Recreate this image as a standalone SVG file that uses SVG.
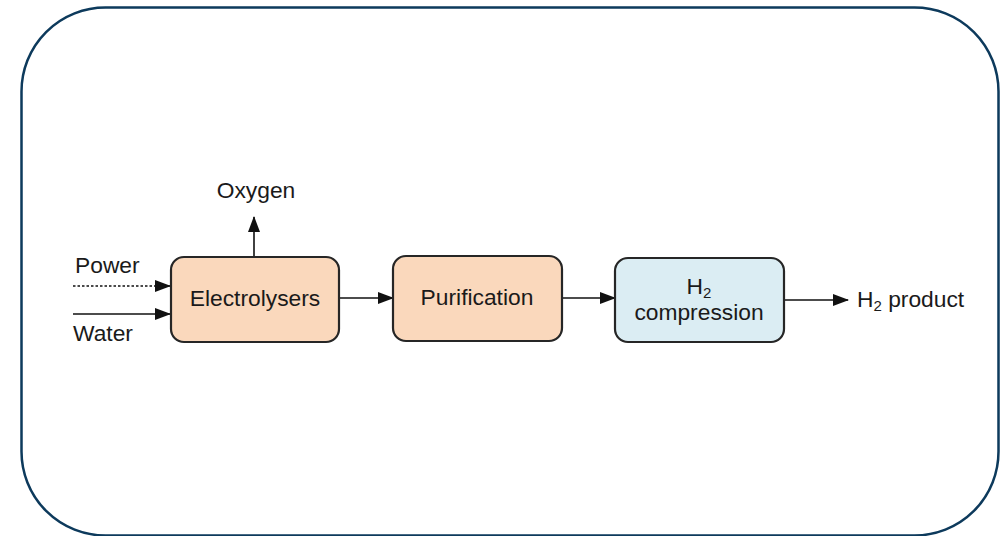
<svg xmlns="http://www.w3.org/2000/svg" width="1005" height="536" viewBox="0 0 1005 536">
<style>
.frame{fill:#fff;stroke:#0d3a5c;stroke-width:2.5}
.box{stroke:#262626;stroke-width:2.2}
.orange{fill:#fad8bc}
.blue{fill:#dbedf3}
.t{font-family:"Liberation Sans",Arial,sans-serif;font-size:22.8px;fill:#1a1a1a}
.c{text-anchor:middle}
.line{stroke:#111;stroke-width:1.6;fill:none}
</style>
<defs>
<marker id="ah" markerWidth="16" markerHeight="12" refX="15" refY="6" orient="auto" markerUnits="userSpaceOnUse">
<path d="M0,0 L16,6 L0,12 Z" fill="#111"/>
</marker>
</defs>
<rect class="frame" x="21.5" y="7.5" width="977" height="528" rx="84" ry="84"/>
<g id="connectors">
<line class="line" x1="73" y1="286" x2="170" y2="286" stroke-dasharray="2.5,2" marker-end="url(#ah)"/>
<line class="line" x1="73" y1="314" x2="170" y2="314" marker-end="url(#ah)"/>
<line class="line" x1="254" y1="257" x2="254" y2="217" marker-end="url(#ah)"/>
<line class="line" x1="339" y1="298" x2="393" y2="298" marker-end="url(#ah)"/>
<line class="line" x1="562" y1="298" x2="615" y2="298" marker-end="url(#ah)"/>
<line class="line" x1="784" y1="300" x2="848" y2="300" marker-end="url(#ah)"/>
</g>
<g id="electrolysers">
<rect class="box orange" x="171" y="257" width="168" height="85" rx="13"/>
<text class="t c" x="255" y="306">Electrolysers</text>
</g>
<g id="purification">
<rect class="box orange" x="393" y="256" width="169" height="85" rx="13"/>
<text class="t c" x="477" y="305">Purification</text>
</g>
<g id="compression">
<rect class="box blue" x="615" y="258" width="169" height="84" rx="13"/>
<text class="t c" x="699" y="294">H<tspan font-size="15" dy="4">2</tspan></text>
<text class="t c" x="699" y="320">compression</text>
</g>
<g id="labels">
<text class="t c" x="256" y="198">Oxygen</text>
<text class="t" x="75" y="273">Power</text>
<text class="t" x="73" y="341">Water</text>
<text class="t" x="857" y="307">H<tspan font-size="15" dy="4">2</tspan><tspan dy="-4"> product</tspan></text>
</g>
</svg>
